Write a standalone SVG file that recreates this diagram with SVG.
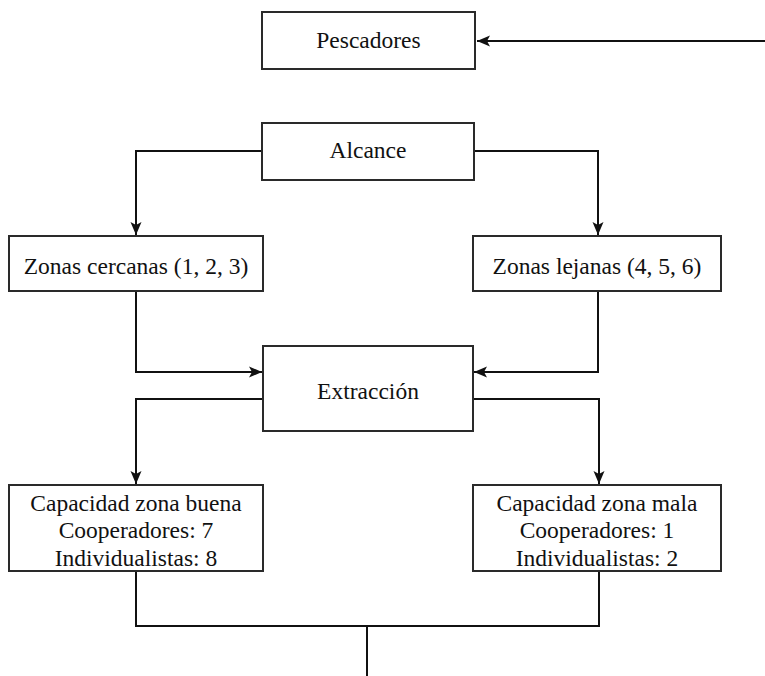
<svg xmlns="http://www.w3.org/2000/svg" width="765" height="676" viewBox="0 0 765 676">
  <style>
    .box { fill: #ffffff; stroke: #2a2a2a; stroke-width: 2; }
    .lbl { font-size: 23.5px; fill: #111111; text-anchor: middle; }
    .wire { fill: none; stroke: #111111; stroke-width: 2; }
  </style>
  <defs>
    <marker id="arrow" markerUnits="userSpaceOnUse" markerWidth="14" markerHeight="14" viewBox="0 0 14 14" refX="13" refY="7" orient="auto">
      <path d="M0,1.5 L13,7 L0,12.5 L3,7 Z" fill="#111111"/>
    </marker>
  </defs>
  <rect width="765" height="676" fill="#ffffff"/>

  <!-- connectors -->
  <g id="connectors">
    <path class="wire" d="M765,41 H477" marker-end="url(#arrow)"/>
    <path class="wire" d="M262,151 H136 V235" marker-end="url(#arrow)"/>
    <path class="wire" d="M474,151 H598 V235" marker-end="url(#arrow)"/>
    <path class="wire" d="M136,291 V372 H262" marker-end="url(#arrow)"/>
    <path class="wire" d="M598,291 V372 H474" marker-end="url(#arrow)"/>
    <path class="wire" d="M263,399 H136 V484" marker-end="url(#arrow)"/>
    <path class="wire" d="M473,399 H599 V484" marker-end="url(#arrow)"/>
    <path class="wire" d="M136,571 V626 H599 V571"/>
    <path class="wire" d="M367,626 V676"/>
  </g>

  <!-- nodes -->
  <g font-family="'Liberation Serif', 'Times New Roman', 'DejaVu Serif', serif">
    <g id="pescadores">
      <rect class="box" x="262" y="12" width="213" height="57"/>
      <text class="lbl" x="368.5" y="48">Pescadores</text>
    </g>
    <g id="alcance">
      <rect class="box" x="262" y="123" width="212" height="57"/>
      <text class="lbl" x="368" y="158">Alcance</text>
    </g>
    <g id="zonas-cercanas">
      <rect class="box" x="9" y="236" width="254" height="55"/>
      <text class="lbl" x="136" y="274">Zonas cercanas (1, 2, 3)</text>
    </g>
    <g id="zonas-lejanas">
      <rect class="box" x="473" y="236" width="248" height="55"/>
      <text class="lbl" x="597" y="274">Zonas lejanas (4, 5, 6)</text>
    </g>
    <g id="extraccion">
      <rect class="box" x="263" y="346" width="210" height="85"/>
      <text class="lbl" x="368" y="399">Extracción</text>
    </g>
    <g id="capacidad-buena">
      <rect class="box" x="9" y="485" width="254" height="86"/>
      <text class="lbl" x="136" y="511">Capacidad zona buena</text>
      <text class="lbl" x="136" y="538">Cooperadores: 7</text>
      <text class="lbl" x="136" y="566">Individualistas: 8</text>
    </g>
    <g id="capacidad-mala">
      <rect class="box" x="473" y="485" width="248" height="86"/>
      <text class="lbl" x="597" y="511">Capacidad zona mala</text>
      <text class="lbl" x="597" y="538">Cooperadores: 1</text>
      <text class="lbl" x="597" y="566">Individualistas: 2</text>
    </g>
  </g>
</svg>
